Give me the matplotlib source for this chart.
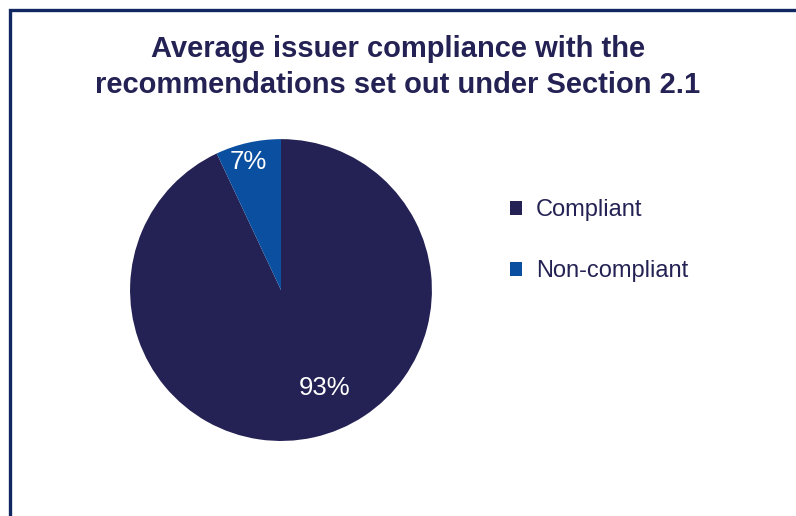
import numpy as np
import matplotlib.pyplot as plt
from matplotlib.patches import Rectangle

# chart data
labels = ["Compliant", "Non-compliant"]
shares = [93, 7]
colors = ["#242254", "#0B50A0"]

# percentage label placement: radial distance and angular nudge (deg) from wedge middle
label_dist = [0.71, 0.876]
label_nudge = [11.6, 1.9]

TITLE = "Average issuer compliance with the\nrecommendations set out under Section 2.1"
NAVY = "#242254"

plt.rcParams["font.family"] = ["Liberation Sans", "DejaVu Sans"]

fig = plt.figure(figsize=(7.96, 5.16), dpi=100)

# frame around the chart (runs off right and bottom edges)
fig.patches.append(Rectangle((10 / 796, -0.05), 1.2, 1 - 9.5 / 516 + 0.05,
                             transform=fig.transFigure, fill=False,
                             edgecolor="#10285F", linewidth=2.4))

fig.text(0.5, 1 - 67 / 516, TITLE, ha="center", va="center", fontsize=21,
         fontweight="bold", color=NAVY, linespacing=1.36)

ax = fig.add_axes([0.353 - 0.19, 0.438 - 0.2926, 0.38, 0.585])
wedges, texts, autotexts = ax.pie(shares, colors=colors, startangle=90,
                                  counterclock=False, autopct="%d%%",
                                  textprops=dict(color="white", fontsize=18.5))
ax.set_xlim(-1, 1)
ax.set_ylim(-1, 1)
ax.set_aspect("equal")

# move percentage labels to where the reference has them
for w, t, d, nudge in zip(wedges, autotexts, label_dist, label_nudge):
    ang = np.deg2rad((w.theta1 + w.theta2) / 2 + nudge)
    t.set_position((d * np.cos(ang), d * np.sin(ang)))

fig.legend(wedges, labels, loc="upper left", bbox_to_anchor=(489 / 796, 1 - 178 / 516),
           frameon=False, fontsize=17, handlelength=0.5, handleheight=0.5,
           labelspacing=1.65, handletextpad=0.6, labelcolor=NAVY)

fig.savefig("out.png", dpi=100)
